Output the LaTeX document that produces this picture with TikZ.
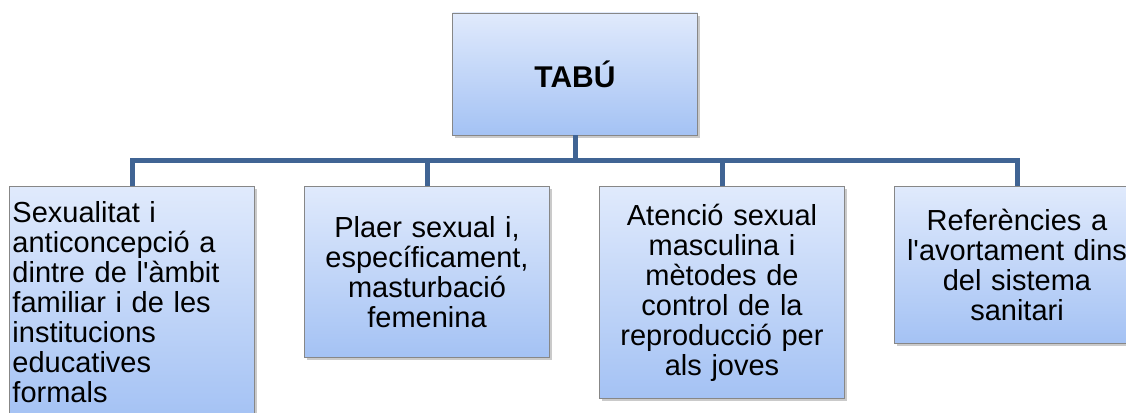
\documentclass[tikz,border=0pt]{standalone}
\usepackage{fontspec}
\setmainfont{Liberation Sans}
\usetikzlibrary{positioning}
\usetikzlibrary{shadows}

\definecolor{boxtop}{RGB}{224,234,252}
\definecolor{boxbot}{RGB}{164,194,244}
\definecolor{boxline}{RGB}{135,135,135}
\definecolor{linkblue}{RGB}{64,100,148}

\begin{document}
\begin{tikzpicture}[x=1pt, y=-1pt, on grid, node distance=295pt,
    box/.style={draw=boxline, line width=0.8pt, top color=boxtop, bottom color=boxbot,
      drop shadow={shadow xshift=2pt, shadow yshift=-3pt, opacity=0.35, fill=black!60},
      minimum width=245pt, inner sep=3pt, font=\fontsize{29}{30}\selectfont},
    leaf/.style={box, anchor=north, text width=239pt, align=center},
    link/.style={draw=linkblue, line width=5pt}]
  \useasboundingbox (0,0) rectangle (1126,412);
  \node[box, minimum height=122pt, font=\bfseries\fontsize{30}{32}\selectfont] (tabu) at (575,74) {TABÚ};
  \node[leaf, align=left, minimum height=232pt] (b1) at (132,186)
    {Sexualitat i\\anticoncepció a\\dintre de l\textquotesingle àmbit\\familiar i de les\\institucions\\educatives\\formals};
  \node[leaf, minimum height=171pt, right=of b1.north, anchor=north] (b2)
    {Plaer sexual i,\\específicament,\\masturbació\\femenina};
  \node[leaf, minimum height=212pt, right=of b2.north, anchor=north] (b3)
    {Atenció sexual\\masculina i\\mètodes de\\control de la\\reproducció per\\als joves};
  \node[leaf, minimum height=157pt, right=of b3.north, anchor=north] (b4)
    {Referències a\\l\textquotesingle avortament dins\\del sistema\\sanitari};
  \coordinate (bus) at (575,160);
  \draw[link] (tabu.south) -- (bus);
  \draw[link] (b1.north) |- (bus) -| (b4.north);
  \draw[link] (b2.north) -- (b2.north |- bus);
  \draw[link] (b3.north) -- (b3.north |- bus);
\end{tikzpicture}
\end{document}
